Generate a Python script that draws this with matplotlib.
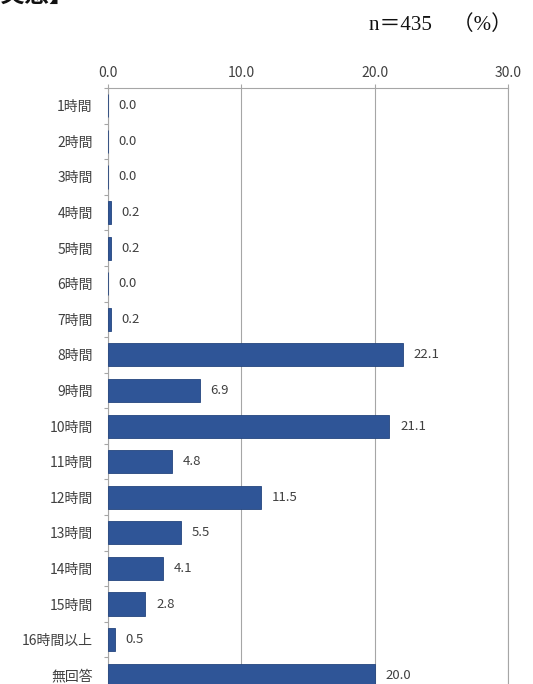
import numpy as np
import matplotlib.pyplot as plt

plt.rcParams["font.family"] = ["Noto Sans CJK JP", "DejaVu Sans"]

categories = ["1時間", "2時間", "3時間", "4時間", "5時間", "6時間", "7時間",
              "8時間", "9時間", "10時間", "11時間", "12時間", "13時間",
              "14時間", "15時間", "16時間以上", "無回答"]
values = [0.0, 0.0, 0.0, 0.2, 0.2, 0.0, 0.2, 22.1, 6.9, 21.1, 4.8,
          11.5, 5.5, 4.1, 2.8, 0.5, 20.0]
xticks = [0, 10, 20, 30]

BAR = "#2F5597"
GRID = "#A6A6A6"
TXT = "#404040"

fig = plt.figure(figsize=(5.33, 6.84), dpi=100)
# axes box: left 108px, right 508px, top 88px, bottom runs past the image
ax = fig.add_axes([108 / 533, 1 - 693 / 684, 400 / 533, 605 / 684])

y = np.arange(len(categories))
ax.barh(y, values, height=0.65, color=BAR, edgecolor="#24457E", linewidth=0.6, zorder=3)

for yi, v in zip(y, values):
    ax.text(v + 0.8, yi, f"{v:.1f}", va="center", ha="left",
            fontsize=9.5, color=TXT, zorder=4)

ax.set_xlim(0, 30)
ax.set_ylim(len(categories) - 0.5, -0.5)

ax.set_xticks(xticks)
ax.set_xticklabels([f"{t:.1f}" for t in xticks], fontsize=10, color=TXT)
ax.xaxis.tick_top()
ax.tick_params(axis="x", which="major", length=3, width=0.8, color=GRID, pad=3)
ax.grid(axis="x", color=GRID, linewidth=0.8, zorder=0)
ax.axvline(30, color=GRID, linewidth=0.8, zorder=0, clip_on=False)

ax.set_yticks(y)
ax.set_yticklabels(categories, fontsize=10, color=TXT)
ax.set_yticks(np.arange(-0.5, len(categories), 1), minor=True)
ax.tick_params(axis="y", which="major", length=0, pad=11)
ax.tick_params(axis="y", which="minor", length=3, width=0.8, color=GRID)

for side in ["right", "bottom"]:
    ax.spines[side].set_visible(False)
for side in ["top", "left"]:
    ax.spines[side].set_color(GRID)
    ax.spines[side].set_linewidth(0.8)

fig.text(512 / 533, 1 - 25 / 684, "n＝435　（%）", ha="right", va="center",
         fontsize=15, color="#111111",
         family=["Liberation Serif", "Noto Sans CJK JP"])
# heading from the page above, mostly cut off
fig.text(0.0, 1 - 7 / 684, "実態】", ha="left", va="bottom",
         fontsize=18, fontweight="bold", color="#111111")

fig.savefig("out.png", dpi=100)
